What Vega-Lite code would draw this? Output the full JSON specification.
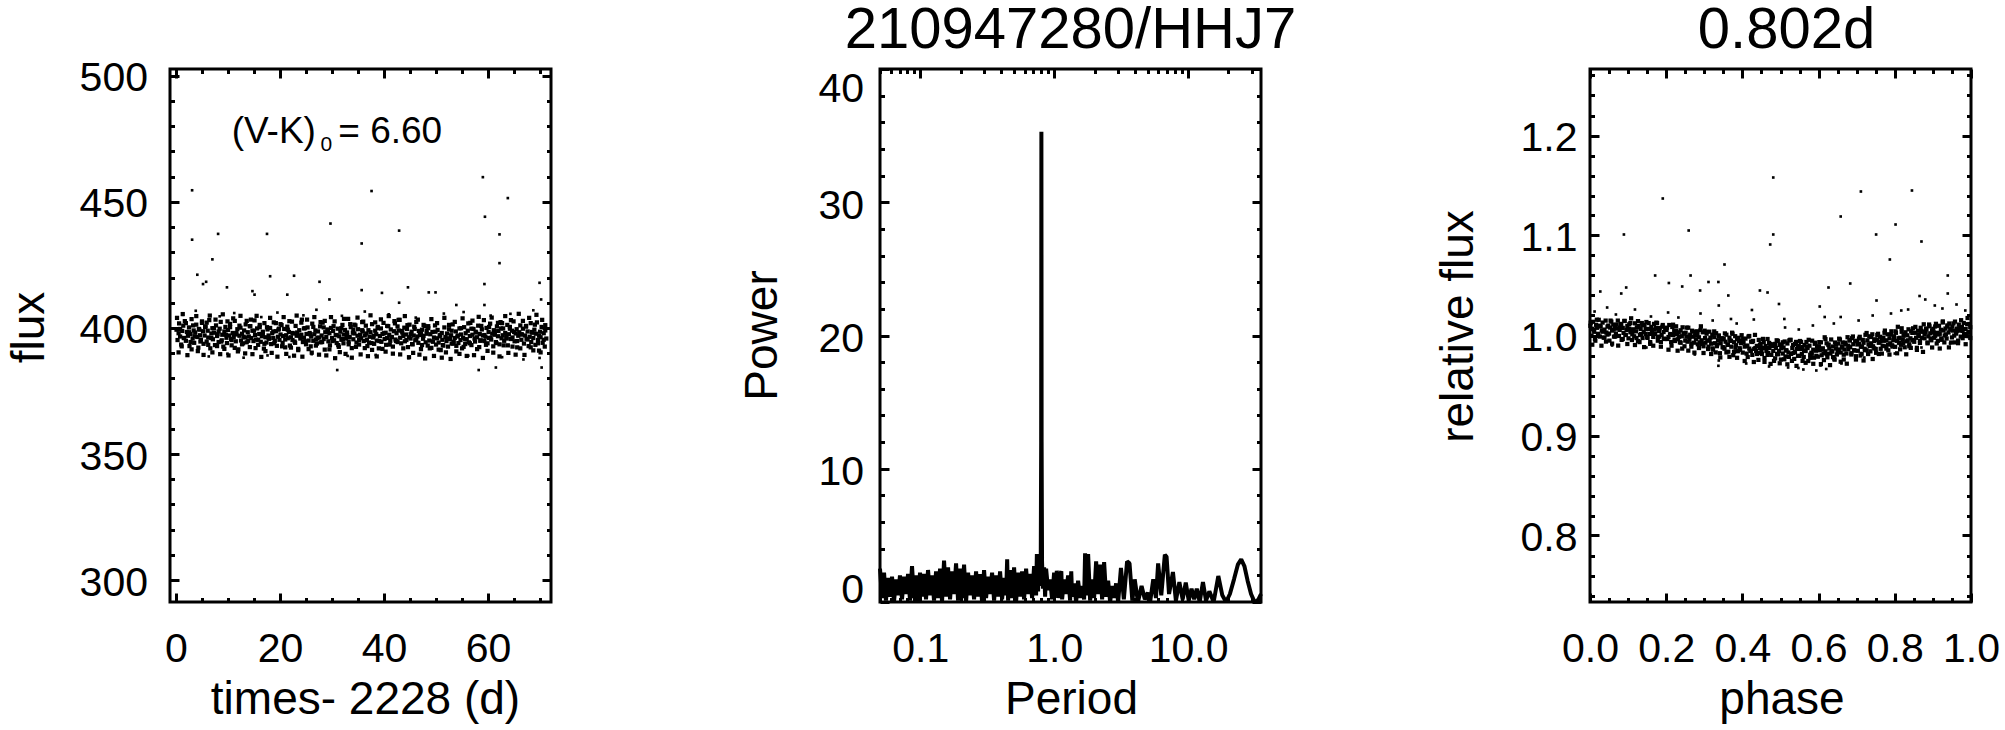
{
"$schema": "https://vega.github.io/schema/vega-lite/v6.json",
"background": "white",
"padding": {"left": 5, "top": 0, "right": 5, "bottom": 5},
"bounds": "flush",
"spacing": 329,
"datasets": {
"ann1": [{"t": 10.7, "f": 473.4, "s": "(V-K)"}, {"t": 31.2, "f": 473.4, "s": "= 6.60"}],
"ann2": [{"t": 27.8, "f": 470.0, "s": "0"}],
"lc": [
{"t":0.1,"f":399.3},{"t":0.3,"f":395.2},{"t":0.5,"f":397.9},{"t":0.6,"f":401.8},{"t":0.8,"f":396.6},{"t":1.0,"f":393.4},{"t":1.2,"f":398.8},{"t":1.4,"f":400.9},{"t":1.5,"f":396.0},{"t":1.7,"f":402.7},
{"t":1.9,"f":394.9},{"t":2.1,"f":398.4},{"t":2.3,"f":396.9},{"t":2.5,"f":400.2},{"t":2.6,"f":392.8},{"t":2.8,"f":397.6},{"t":3.0,"f":403.5},{"t":3.2,"f":395.8},{"t":3.4,"f":399.0},{"t":3.5,"f":394.1},
{"t":3.7,"f":398.2},{"t":3.9,"f":401.3},{"t":4.1,"f":396.4},{"t":4.3,"f":392.2},{"t":4.4,"f":399.6},{"t":4.6,"f":397.1},{"t":4.8,"f":395.3},{"t":5.0,"f":402.0},{"t":5.2,"f":398.7},{"t":5.3,"f":393.7},
{"t":5.5,"f":397.0},{"t":5.7,"f":400.6},{"t":5.9,"f":394.6},{"t":6.1,"f":398.9},{"t":6.2,"f":396.2},{"t":6.4,"f":403.1},{"t":6.6,"f":391.9},{"t":6.8,"f":397.8},{"t":7.0,"f":399.9},{"t":7.1,"f":395.5},
{"t":7.3,"f":398.1},{"t":7.5,"f":393.2},{"t":7.7,"f":401.0},{"t":7.9,"f":396.8},{"t":8.0,"f":397.5},{"t":8.2,"f":394.4},{"t":8.4,"f":399.7},{"t":8.6,"f":402.4},{"t":8.8,"f":395.1},{"t":8.9,"f":397.3},
{"t":9.1,"f":392.6},{"t":9.3,"f":398.6},{"t":9.5,"f":400.4},{"t":9.7,"f":396.1},{"t":9.8,"f":394.0},{"t":10.0,"f":399.2},{"t":10.2,"f":397.0},{"t":10.4,"f":401.6},{"t":10.6,"f":395.6},{"t":10.7,"f":393.1},
{"t":10.9,"f":398.0},{"t":11.1,"f":396.4},{"t":11.3,"f":402.8},{"t":11.5,"f":394.7},{"t":11.6,"f":397.4},{"t":11.8,"f":399.5},{"t":12.0,"f":391.5},{"t":12.2,"f":396.9},{"t":12.4,"f":400.1},{"t":12.5,"f":395.0},
{"t":12.7,"f":397.7},{"t":12.9,"f":393.9},{"t":13.1,"f":399.0},{"t":13.3,"f":396.2},{"t":13.4,"f":401.4},{"t":13.6,"f":394.3},{"t":13.8,"f":398.3},{"t":14.0,"f":396.6},{"t":14.2,"f":392.4},{"t":14.3,"f":400.7},
{"t":14.5,"f":396.0},{"t":14.7,"f":398.9},{"t":14.9,"f":394.8},{"t":15.1,"f":403.0},{"t":15.2,"f":397.2},{"t":15.4,"f":395.4},{"t":15.6,"f":399.8},{"t":15.8,"f":393.3},{"t":16.0,"f":397.6},{"t":16.1,"f":400.3},
{"t":16.3,"f":394.5},{"t":16.5,"f":396.7},{"t":16.7,"f":398.5},{"t":16.9,"f":391.8},{"t":17.0,"f":401.9},{"t":17.2,"f":396.3},{"t":17.4,"f":394.2},{"t":17.6,"f":399.4},{"t":17.8,"f":397.0},{"t":17.9,"f":395.7},
{"t":18.1,"f":400.0},{"t":18.3,"f":393.6},{"t":18.5,"f":397.9},{"t":18.7,"f":396.0},{"t":18.8,"f":402.2},{"t":19.0,"f":394.9},{"t":19.2,"f":398.7},{"t":19.4,"f":392.9},{"t":19.6,"f":396.5},{"t":19.7,"f":399.3},
{"t":19.9,"f":395.3},{"t":20.1,"f":397.4},{"t":20.3,"f":401.1},{"t":20.5,"f":394.1},{"t":20.6,"f":396.8},{"t":20.8,"f":399.6},{"t":21.0,"f":392.3},{"t":21.2,"f":397.1},{"t":21.4,"f":400.5},{"t":21.5,"f":395.9},
{"t":21.7,"f":398.4},{"t":21.9,"f":393.0},{"t":22.1,"f":396.3},{"t":22.3,"f":402.5},{"t":22.4,"f":395.2},{"t":22.6,"f":397.8},{"t":22.8,"f":394.6},{"t":23.0,"f":400.8},{"t":23.2,"f":396.9},{"t":23.3,"f":398.2},
{"t":23.5,"f":391.7},{"t":23.7,"f":399.1},{"t":23.9,"f":395.8},{"t":24.1,"f":397.3},{"t":24.2,"f":403.3},{"t":24.4,"f":394.4},{"t":24.6,"f":396.1},{"t":24.8,"f":399.9},{"t":25.0,"f":393.5},{"t":25.1,"f":397.6},
{"t":25.3,"f":400.2},{"t":25.5,"f":395.0},{"t":25.7,"f":398.0},{"t":25.9,"f":392.7},{"t":26.0,"f":396.6},{"t":26.2,"f":401.7},{"t":26.4,"f":394.9},{"t":26.6,"f":397.5},{"t":26.8,"f":399.0},{"t":26.9,"f":395.4},
{"t":27.1,"f":393.8},{"t":27.3,"f":398.6},{"t":27.5,"f":396.2},{"t":27.7,"f":400.6},{"t":27.8,"f":394.3},{"t":28.0,"f":397.0},{"t":28.2,"f":402.1},{"t":28.4,"f":395.6},{"t":28.6,"f":391.4},{"t":28.7,"f":398.3},
{"t":28.9,"f":396.4},{"t":29.1,"f":399.4},{"t":29.3,"f":394.7},{"t":29.5,"f":397.9},{"t":29.6,"f":393.1},{"t":29.8,"f":400.0},{"t":30.0,"f":396.0},{"t":30.2,"f":398.8},{"t":30.4,"f":395.1},{"t":30.5,"f":402.6},
{"t":30.7,"f":397.2},{"t":30.9,"f":394.0},{"t":31.1,"f":399.7},{"t":31.3,"f":392.5},{"t":31.4,"f":396.7},{"t":31.6,"f":398.5},{"t":31.8,"f":395.3},{"t":32.0,"f":401.2},{"t":32.2,"f":393.9},{"t":32.3,"f":397.4},
{"t":32.5,"f":399.2},{"t":32.7,"f":395.8},{"t":32.9,"f":397.1},{"t":33.1,"f":403.6},{"t":33.2,"f":394.6},{"t":33.4,"f":396.4},{"t":33.6,"f":400.3},{"t":33.8,"f":392.0},{"t":34.0,"f":398.1},{"t":34.1,"f":395.5},
{"t":34.3,"f":397.8},{"t":34.5,"f":401.0},{"t":34.7,"f":394.2},{"t":34.9,"f":396.9},{"t":35.0,"f":399.5},{"t":35.2,"f":393.4},{"t":35.4,"f":397.3},{"t":35.6,"f":395.9},{"t":35.8,"f":402.3},{"t":35.9,"f":398.6},
{"t":36.1,"f":394.8},{"t":36.3,"f":397.0},{"t":36.5,"f":400.9},{"t":36.7,"f":395.2},{"t":36.8,"f":392.8},{"t":37.0,"f":399.1},{"t":37.2,"f":396.5},{"t":37.4,"f":398.3},{"t":37.6,"f":394.0},{"t":37.7,"f":401.5},
{"t":37.9,"f":396.2},{"t":38.1,"f":393.7},{"t":38.3,"f":398.9},{"t":38.5,"f":397.5},{"t":38.6,"f":395.0},{"t":38.8,"f":400.4},{"t":39.0,"f":391.9},{"t":39.2,"f":396.8},{"t":39.4,"f":399.8},{"t":39.5,"f":394.5},
{"t":39.7,"f":397.6},{"t":39.9,"f":402.0},{"t":40.1,"f":395.6},{"t":40.3,"f":398.1},{"t":40.4,"f":393.3},{"t":40.6,"f":396.0},{"t":40.8,"f":400.7},{"t":41.0,"f":397.3},{"t":41.2,"f":394.9},{"t":41.3,"f":399.4},
{"t":41.5,"f":396.4},{"t":41.7,"f":392.6},{"t":41.9,"f":398.7},{"t":42.1,"f":401.8},{"t":42.2,"f":395.4},{"t":42.4,"f":397.9},{"t":42.6,"f":394.4},{"t":42.8,"f":399.0},{"t":43.0,"f":403.2},{"t":43.1,"f":396.1},
{"t":43.3,"f":393.9},{"t":43.5,"f":398.2},{"t":43.7,"f":396.8},{"t":43.9,"f":400.1},{"t":44.0,"f":394.7},{"t":44.2,"f":397.4},{"t":44.4,"f":399.6},{"t":44.6,"f":392.4},{"t":44.8,"f":396.3},{"t":44.9,"f":401.3},
{"t":45.1,"f":395.8},{"t":45.3,"f":398.5},{"t":45.5,"f":393.5},{"t":45.7,"f":397.0},{"t":45.8,"f":400.5},{"t":46.0,"f":395.1},{"t":46.2,"f":402.4},{"t":46.4,"f":396.6},{"t":46.6,"f":394.1},{"t":46.7,"f":398.8},
{"t":46.9,"f":397.2},{"t":47.1,"f":391.6},{"t":47.3,"f":399.3},{"t":47.5,"f":395.7},{"t":47.6,"f":396.9},{"t":47.8,"f":400.8},{"t":48.0,"f":394.3},{"t":48.2,"f":397.7},{"t":48.4,"f":393.0},{"t":48.5,"f":399.9},
{"t":48.7,"f":395.0},{"t":48.9,"f":397.5},{"t":49.1,"f":392.1},{"t":49.3,"f":398.4},{"t":49.4,"f":394.6},{"t":49.6,"f":396.2},{"t":49.8,"f":401.0},{"t":50.0,"f":393.4},{"t":50.2,"f":395.9},{"t":50.3,"f":399.2},
{"t":50.5,"f":394.2},{"t":50.7,"f":396.7},{"t":50.9,"f":391.2},{"t":51.1,"f":398.0},{"t":51.2,"f":395.3},{"t":51.4,"f":393.0},{"t":51.6,"f":400.2},{"t":51.8,"f":396.4},{"t":52.0,"f":394.8},{"t":52.1,"f":397.8},
{"t":52.3,"f":392.6},{"t":52.5,"f":399.5},{"t":52.7,"f":395.6},{"t":52.9,"f":397.1},{"t":53.0,"f":393.8},{"t":53.2,"f":401.4},{"t":53.4,"f":394.5},{"t":53.6,"f":396.0},{"t":53.8,"f":398.6},{"t":53.9,"f":392.9},
{"t":54.1,"f":396.6},{"t":54.3,"f":394.0},{"t":54.5,"f":399.8},{"t":54.7,"f":395.2},{"t":54.8,"f":397.4},{"t":55.0,"f":391.9},{"t":55.2,"f":396.1},{"t":55.4,"f":400.3},{"t":55.6,"f":393.6},{"t":55.7,"f":397.9},
{"t":55.9,"f":395.5},{"t":56.1,"f":398.9},{"t":56.3,"f":394.3},{"t":56.5,"f":396.8},{"t":56.6,"f":402.0},{"t":56.8,"f":393.2},{"t":57.0,"f":397.3},{"t":57.2,"f":399.6},{"t":57.4,"f":395.8},{"t":57.5,"f":394.6},
{"t":57.7,"f":398.2},{"t":57.9,"f":396.3},{"t":58.1,"f":400.9},{"t":58.3,"f":392.4},{"t":58.4,"f":397.6},{"t":58.6,"f":395.1},{"t":58.8,"f":399.4},{"t":59.0,"f":397.0},{"t":59.2,"f":403.1},{"t":59.3,"f":394.8},
{"t":59.5,"f":396.5},{"t":59.7,"f":400.0},{"t":59.9,"f":393.9},{"t":60.1,"f":398.4},{"t":60.2,"f":396.0},{"t":60.4,"f":401.7},{"t":60.6,"f":395.4},{"t":60.8,"f":397.7},{"t":61.0,"f":392.7},{"t":61.1,"f":399.1},
{"t":61.3,"f":397.3},{"t":61.5,"f":394.4},{"t":61.7,"f":400.6},{"t":61.9,"f":396.7},{"t":62.0,"f":398.8},{"t":62.2,"f":393.5},{"t":62.4,"f":402.3},{"t":62.6,"f":395.9},{"t":62.8,"f":397.1},{"t":62.9,"f":399.8},
{"t":63.1,"f":394.9},{"t":63.3,"f":398.0},{"t":63.5,"f":396.4},{"t":63.7,"f":401.2},{"t":63.8,"f":393.1},{"t":64.0,"f":397.5},{"t":64.2,"f":400.4},{"t":64.4,"f":395.6},{"t":64.6,"f":398.9},{"t":64.7,"f":396.2},
{"t":64.9,"f":402.6},{"t":65.1,"f":394.7},{"t":65.3,"f":397.8},{"t":65.5,"f":399.5},{"t":65.6,"f":392.3},{"t":65.8,"f":396.9},{"t":66.0,"f":398.3},{"t":66.2,"f":401.0},{"t":66.4,"f":395.3},{"t":66.5,"f":397.4},
{"t":66.7,"f":399.7},{"t":66.9,"f":393.8},{"t":67.1,"f":397.0},{"t":67.3,"f":400.8},{"t":67.4,"f":395.7},{"t":67.6,"f":398.6},{"t":67.8,"f":392.8},{"t":68.0,"f":396.5},{"t":68.2,"f":401.9},{"t":68.3,"f":394.4},
{"t":68.5,"f":398.1},{"t":68.7,"f":396.0},{"t":68.9,"f":399.3},{"t":69.1,"f":393.3},{"t":69.2,"f":397.7},{"t":69.4,"f":402.2},{"t":69.6,"f":395.2},{"t":69.8,"f":391.0},{"t":70.0,"f":398.5},{"t":70.1,"f":396.3},
{"t":70.3,"f":400.4},{"t":70.5,"f":394.1},{"t":70.7,"f":397.9},{"t":70.9,"f":392.6},{"t":71.0,"f":399.0},{"t":71.2,"f":395.8},
{"t":0.2,"f":404.0},{"t":0.5,"f":390.3},{"t":0.8,"f":399.6},{"t":1.1,"f":392.7},{"t":1.3,"f":405.5},{"t":1.6,"f":396.0},{"t":1.9,"f":401.9},{"t":2.2,"f":389.2},{"t":2.5,"f":398.3},{"t":2.8,"f":394.4},
{"t":3.0,"f":391.5},{"t":3.3,"f":401.0},{"t":3.6,"f":396.7},{"t":3.9,"f":404.7},{"t":4.2,"f":390.8},{"t":4.5,"f":399.3},{"t":4.7,"f":394.6},{"t":5.0,"f":402.6},{"t":5.3,"f":389.3},{"t":5.6,"f":400.4},
{"t":5.9,"f":402.1},{"t":6.2,"f":393.3},{"t":6.5,"f":404.9},{"t":6.8,"f":396.0},{"t":7.0,"f":390.3},{"t":7.3,"f":399.9},{"t":7.6,"f":403.3},{"t":7.9,"f":392.8},{"t":8.2,"f":398.6},{"t":8.5,"f":389.6},
{"t":8.7,"f":394.6},{"t":9.0,"f":405.4},{"t":9.3,"f":391.7},{"t":9.6,"f":397.3},{"t":9.9,"f":402.6},{"t":10.1,"f":389.1},{"t":10.4,"f":400.3},{"t":10.7,"f":395.2},{"t":11.0,"f":403.8},{"t":11.3,"f":392.1},
{"t":11.6,"f":398.0},{"t":11.9,"f":390.7},{"t":12.2,"f":400.9},{"t":12.4,"f":404.8},{"t":12.7,"f":393.5},{"t":13.0,"f":396.5},{"t":13.3,"f":389.9},{"t":13.6,"f":402.8},{"t":13.9,"f":394.9},{"t":14.2,"f":400.7},
{"t":14.4,"f":403.3},{"t":14.7,"f":389.6},{"t":15.0,"f":398.9},{"t":15.3,"f":392.0},{"t":15.5,"f":404.8},{"t":15.8,"f":395.3},{"t":16.1,"f":401.2},{"t":16.4,"f":388.5},{"t":16.7,"f":397.6},{"t":17.0,"f":393.7},
{"t":17.2,"f":390.8},{"t":17.5,"f":400.3},{"t":17.8,"f":396.0},{"t":18.1,"f":404.0},{"t":18.4,"f":390.1},{"t":18.7,"f":398.6},{"t":18.9,"f":393.9},{"t":19.2,"f":401.9},{"t":19.5,"f":388.6},{"t":19.8,"f":399.7},
{"t":20.1,"f":401.5},{"t":20.4,"f":392.7},{"t":20.7,"f":404.3},{"t":21.0,"f":395.4},{"t":21.2,"f":389.7},{"t":21.5,"f":399.3},{"t":21.8,"f":402.7},{"t":22.1,"f":392.2},{"t":22.4,"f":398.0},{"t":22.7,"f":389.0},
{"t":22.9,"f":394.1},{"t":23.2,"f":404.9},{"t":23.5,"f":391.2},{"t":23.8,"f":396.8},{"t":24.1,"f":402.1},{"t":24.3,"f":388.6},{"t":24.6,"f":399.8},{"t":24.9,"f":394.7},{"t":25.2,"f":403.3},{"t":25.5,"f":391.6},
{"t":25.8,"f":397.5},{"t":26.1,"f":390.2},{"t":26.4,"f":400.4},{"t":26.6,"f":404.3},{"t":26.9,"f":393.0},{"t":27.2,"f":396.0},{"t":27.5,"f":389.4},{"t":27.8,"f":402.3},{"t":28.1,"f":394.4},{"t":28.4,"f":400.2},
{"t":28.6,"f":402.8},{"t":28.9,"f":389.1},{"t":29.2,"f":398.4},{"t":29.5,"f":391.5},{"t":29.8,"f":404.3},{"t":30.1,"f":394.8},{"t":30.3,"f":400.7},{"t":30.6,"f":388.0},{"t":30.9,"f":397.1},{"t":31.2,"f":393.2},
{"t":31.5,"f":390.4},{"t":31.8,"f":399.9},{"t":32.1,"f":395.6},{"t":32.3,"f":403.6},{"t":32.6,"f":389.7},{"t":32.9,"f":398.2},{"t":33.2,"f":393.5},{"t":33.5,"f":401.5},{"t":33.8,"f":388.2},{"t":34.1,"f":399.3},
{"t":34.3,"f":401.3},{"t":34.6,"f":392.5},{"t":34.9,"f":404.1},{"t":35.2,"f":395.2},{"t":35.5,"f":389.5},{"t":35.8,"f":399.1},{"t":36.0,"f":402.5},{"t":36.3,"f":392.0},{"t":36.6,"f":397.8},{"t":36.9,"f":388.8},
{"t":37.1,"f":394.2},{"t":37.4,"f":405.0},{"t":37.7,"f":391.3},{"t":38.0,"f":396.9},{"t":38.3,"f":402.2},{"t":38.6,"f":388.7},{"t":38.8,"f":399.9},{"t":39.1,"f":394.8},{"t":39.4,"f":403.4},{"t":39.7,"f":391.7},
{"t":40.0,"f":397.9},{"t":40.3,"f":390.6},{"t":40.6,"f":400.8},{"t":40.9,"f":404.7},{"t":41.1,"f":393.4},{"t":41.4,"f":396.4},{"t":41.7,"f":389.8},{"t":42.0,"f":402.7},{"t":42.3,"f":394.8},{"t":42.6,"f":400.6},
{"t":42.8,"f":403.2},{"t":43.1,"f":389.5},{"t":43.4,"f":398.8},{"t":43.7,"f":391.9},{"t":44.0,"f":404.7},{"t":44.3,"f":395.2},{"t":44.5,"f":401.1},{"t":44.8,"f":388.4},{"t":45.1,"f":397.5},{"t":45.4,"f":393.6},
{"t":45.6,"f":390.1},{"t":45.9,"f":399.6},{"t":46.2,"f":395.3},{"t":46.5,"f":403.3},{"t":46.8,"f":389.4},{"t":47.1,"f":397.9},{"t":47.3,"f":393.2},{"t":47.6,"f":401.2},{"t":47.9,"f":387.9},{"t":48.2,"f":399.0},
{"t":48.5,"f":400.7},{"t":48.8,"f":391.9},{"t":49.1,"f":403.5},{"t":49.4,"f":394.6},{"t":49.6,"f":388.9},{"t":49.9,"f":398.5},{"t":50.2,"f":401.9},{"t":50.5,"f":391.4},{"t":50.8,"f":397.2},{"t":51.1,"f":388.2},
{"t":51.3,"f":393.2},{"t":51.6,"f":404.0},{"t":51.9,"f":390.3},{"t":52.2,"f":395.9},{"t":52.5,"f":401.2},{"t":52.8,"f":387.7},{"t":53.0,"f":398.9},{"t":53.3,"f":393.8},{"t":53.6,"f":402.4},{"t":53.9,"f":390.7},
{"t":54.2,"f":397.0},{"t":54.5,"f":389.7},{"t":54.8,"f":399.9},{"t":55.1,"f":403.8},{"t":55.3,"f":392.5},{"t":55.6,"f":395.5},{"t":55.9,"f":388.9},{"t":56.2,"f":401.8},{"t":56.5,"f":393.9},{"t":56.8,"f":399.7},
{"t":57.0,"f":402.9},{"t":57.3,"f":389.2},{"t":57.6,"f":398.5},{"t":57.9,"f":391.6},{"t":58.2,"f":404.4},{"t":58.5,"f":394.9},{"t":58.7,"f":400.8},{"t":59.0,"f":388.1},{"t":59.3,"f":397.2},{"t":59.6,"f":393.3},
{"t":59.9,"f":390.9},{"t":60.2,"f":400.4},{"t":60.5,"f":396.1},{"t":60.7,"f":404.1},{"t":61.0,"f":390.2},{"t":61.3,"f":398.7},{"t":61.6,"f":394.0},{"t":61.9,"f":402.0},{"t":62.2,"f":388.7},{"t":62.5,"f":399.8},
{"t":62.7,"f":401.9},{"t":63.0,"f":393.1},{"t":63.3,"f":404.7},{"t":63.6,"f":395.8},{"t":63.9,"f":390.1},{"t":64.2,"f":399.7},{"t":64.4,"f":403.1},{"t":64.7,"f":392.6},{"t":65.0,"f":398.4},{"t":65.3,"f":389.4},
{"t":65.6,"f":394.8},{"t":65.9,"f":405.6},{"t":66.2,"f":391.9},{"t":66.4,"f":397.5},{"t":66.7,"f":402.8},{"t":67.0,"f":389.3},{"t":67.3,"f":400.5},{"t":67.6,"f":395.4},{"t":67.9,"f":404.0},{"t":68.2,"f":392.3},
{"t":68.4,"f":398.4},{"t":68.7,"f":391.1},{"t":69.0,"f":401.3},{"t":69.3,"f":405.2},{"t":69.6,"f":393.9},{"t":69.8,"f":396.9},{"t":70.1,"f":390.3},{"t":70.4,"f":403.2},{"t":70.7,"f":395.3},{"t":71.0,"f":401.1}
],
"lco": [
{"t":2.2,"f":389.4},{"t":6.3,"f":388.7},{"t":9.9,"f":389.8},{"t":13.0,"f":388.2},{"t":17.6,"f":389.1},{"t":21.8,"f":388.5},{"t":26.1,"f":389.6},{"t":33.0,"f":388.9},{"t":38.4,"f":389.3},{"t":44.7,"f":388.0},{"t":49.7,"f":388.6},{"t":52.8,"f":387.8},{"t":56.2,"f":389.0},{"t":62.7,"f":388.4},{"t":66.8,"f":387.5},{"t":69.9,"f":388.1},
{"t":1.3,"f":405.2},{"t":3.8,"f":406.8},{"t":8.4,"f":404.6},{"t":11.2,"f":405.9},{"t":16.4,"f":404.3},{"t":19.5,"f":406.1},{"t":24.5,"f":405.0},{"t":27.0,"f":407.2},{"t":31.9,"f":404.8},{"t":36.3,"f":406.5},{"t":40.9,"f":405.4},{"t":46.1,"f":404.1},{"t":51.5,"f":405.7},{"t":55.3,"f":406.3},{"t":60.5,"f":404.9},{"t":64.3,"f":405.6},{"t":68.7,"f":407.0},
{"t":3.1,"f":454.6},{"t":59.0,"f":459.8},{"t":37.6,"f":454.3},{"t":63.8,"f":451.5},{"t":29.7,"f":441.4},{"t":42.9,"f":438.6},{"t":8.1,"f":437.3},{"t":17.5,"f":437.3},{"t":3.1,"f":435.0},{"t":35.7,"f":433.5},{"t":7.0,"f":427.2},{"t":59.4,"f":444.1},{"t":62.2,"f":437.1},{"t":62.2,"f":425.7},{"t":4.1,"f":421.1},{"t":5.2,"f":417.4},{"t":5.8,"f":418.3},{"t":18.1,"f":420.5},{"t":22.7,"f":420.7},{"t":27.6,"f":418.3},{"t":9.8,"f":416.1},{"t":35.7,"f":415.0},{"t":39.6,"f":413.9},{"t":44.6,"f":416.1},{"t":48.6,"f":414.1},{"t":49.9,"f":414.1},{"t":59.3,"f":417.4},{"t":69.9,"f":417.9},{"t":14.7,"f":414.6},{"t":15.1,"f":413.2},{"t":21.4,"f":413.2},{"t":70.2,"f":411.3},{"t":53.9,"f":409.1},{"t":59.3,"f":409.1},{"t":42.9,"f":410.0},{"t":29.5,"f":411.3},{"t":31.0,"f":383.3},{"t":58.2,"f":383.3},{"t":70.3,"f":384.3},{"t":61.5,"f":384.3}
],
"pg": [
{"p":0.05,"w":2.5},{"p":0.0518,"w":0.3},{"p":0.0536,"w":2.2},{"p":0.0554,"w":0.1},{"p":0.0574,"w":1.8},{"p":0.0594,"w":0.4},{"p":0.0615,"w":1.9},{"p":0.0636,"w":0.0},{"p":0.0659,"w":1.7},{"p":0.0682,"w":0.5},
{"p":0.0705,"w":2.0},{"p":0.073,"w":0.2},{"p":0.0756,"w":1.9},{"p":0.0782,"w":0.6},{"p":0.081,"w":2.1},{"p":0.0838,"w":0.1},{"p":0.0867,"w":2.7},{"p":0.0898,"w":0.3},{"p":0.0929,"w":2.0},{"p":0.0962,"w":0.0},
{"p":0.0995,"w":2.2},{"p":0.103,"w":0.4},{"p":0.1066,"w":2.1},{"p":0.1103,"w":0.2},{"p":0.1142,"w":2.4},{"p":0.1182,"w":0.5},{"p":0.1223,"w":2.0},{"p":0.1266,"w":0.1},{"p":0.1311,"w":2.3},{"p":0.1357,"w":0.3},
{"p":0.1404,"w":2.5},{"p":0.1453,"w":0.0},{"p":0.1504,"w":3.1},{"p":0.1557,"w":0.4},{"p":0.1611,"w":2.6},{"p":0.1668,"w":0.2},{"p":0.1726,"w":2.3},{"p":0.1787,"w":0.6},{"p":0.1849,"w":2.9},{"p":0.1914,"w":0.1},
{"p":0.1981,"w":2.5},{"p":0.205,"w":0.3},{"p":0.2122,"w":2.8},{"p":0.2196,"w":0.0},{"p":0.2273,"w":2.2},{"p":0.2353,"w":0.5},{"p":0.2435,"w":2.0},{"p":0.252,"w":0.2},{"p":0.2608,"w":2.3},{"p":0.27,"w":0.4},
{"p":0.2794,"w":2.1},{"p":0.2892,"w":0.0},{"p":0.2993,"w":2.4},{"p":0.3098,"w":0.3},{"p":0.3206,"w":1.9},{"p":0.3319,"w":0.6},{"p":0.3435,"w":2.2},{"p":0.3555,"w":0.1},{"p":0.368,"w":2.0},{"p":0.3808,"w":0.4},
{"p":0.3941,"w":2.3},{"p":0.4079,"w":0.2},{"p":0.4222,"w":1.8},{"p":0.437,"w":0.5},{"p":0.4452,"w":3.2},{"p":0.4523,"w":0.1},{"p":0.4681,"w":2.4},{"p":0.4845,"w":0.3},{"p":0.5015,"w":2.6},{"p":0.519,"w":0.0},
{"p":0.5372,"w":2.2},{"p":0.556,"w":0.4},{"p":0.5755,"w":2.3},{"p":0.5956,"w":0.2},{"p":0.6165,"w":2.5},{"p":0.638,"w":0.6},{"p":0.6604,"w":2.1},{"p":0.6835,"w":0.3},{"p":0.7074,"w":2.7},{"p":0.7322,"w":0.5},
{"p":0.742,"w":3.6},{"p":0.7578,"w":0.8},{"p":0.77,"w":3.0},{"p":0.7843,"w":1.2},{"p":0.793,"w":2.8},{"p":0.799,"w":12.0},{"p":0.802,"w":35.3},{"p":0.805,"w":12.0},{"p":0.811,"w":3.0},{"p":0.825,"w":1.0},
{"p":0.8402,"w":2.6},{"p":0.855,"w":0.4},{"p":0.8696,"w":2.5},{"p":0.9,"w":0.9},{"p":0.9315,"w":1.7},{"p":0.9641,"w":0.2},{"p":0.9979,"w":2.2},{"p":1.0328,"w":0.5},{"p":1.045,"w":2.35},{"p":1.069,"w":0.3},
{"p":1.1064,"w":2.1},{"p":1.13,"w":2.3},{"p":1.1451,"w":0.2},{"p":1.1852,"w":1.7},{"p":1.2267,"w":0.6},{"p":1.2696,"w":2.0},{"p":1.314,"w":0.1},{"p":1.34,"w":2.3},{"p":1.36,"w":0.4},{"p":1.4076,"w":1.4},
{"p":1.4569,"w":0.0},{"p":1.5079,"w":1.6},{"p":1.5607,"w":0.3},{"p":1.6153,"w":1.2},{"p":1.6718,"w":0.2},{"p":1.7,"w":3.65},{"p":1.7303,"w":0.5},{"p":1.7909,"w":3.6},{"p":1.8536,"w":0.1},{"p":1.9185,"w":1.7},
{"p":1.9856,"w":0.3},{"p":2.0551,"w":3.05},{"p":2.127,"w":0.6},{"p":2.2015,"w":2.8},{"p":2.2785,"w":0.2},{"p":2.3583,"w":3.0},{"p":2.4408,"w":0.4},{"p":2.5262,"w":1.6},{"p":2.6146,"w":0.0},{"p":2.7062,"w":1.2},
{"p":2.8009,"w":0.3},{"p":2.8989,"w":1.4},{"p":3.0004,"w":0.0},{"p":3.15,"w":2.55},{"p":3.31,"w":0.2},{"p":3.5,"w":3.05},{"p":3.65,"w":2.9},{"p":3.83,"w":0.1},{"p":3.99,"w":1.7},{"p":4.22,"w":0.0},
{"p":4.49,"w":1.2},{"p":4.75,"w":0.2},{"p":5.0,"w":0.7},{"p":5.2,"w":0.0},{"p":5.49,"w":1.7},{"p":5.75,"w":0.3},{"p":5.97,"w":2.9},{"p":6.3,"w":0.5},{"p":6.7,"w":3.55},{"p":6.9,"w":3.4},
{"p":7.2,"w":0.6},{"p":7.7,"w":2.25},{"p":8.1,"w":0.1},{"p":8.6,"w":1.5},{"p":9.1,"w":0.2},{"p":9.6,"w":1.45},{"p":10.1,"w":0.1},{"p":10.6,"w":1.0},{"p":11.1,"w":0.2},{"p":11.6,"w":1.0},
{"p":12.2,"w":0.0},{"p":12.9,"w":1.5},{"p":13.6,"w":0.1},{"p":14.4,"w":0.8},{"p":15.5,"w":0.0},{"p":16.8,"w":1.95},{"p":18.0,"w":0.5},{"p":19.2,"w":0.0},{"p":20.5,"w":0.6},{"p":22.0,"w":1.7},
{"p":23.5,"w":2.8},{"p":24.9,"w":3.2},{"p":26.3,"w":2.7},{"p":27.8,"w":1.6},{"p":29.5,"w":0.6},{"p":31.0,"w":0.1},{"p":32.0,"w":0.0},{"p":33.5,"w":0.2},{"p":35.0,"w":0.6}
],
"ph": [
{"ph":0.001,"rf":1.0097},{"ph":0.004,"rf":0.9997},{"ph":0.006,"rf":1.0067},{"ph":0.008,"rf":1.0137},{"ph":0.011,"rf":1.0037},{"ph":0.013,"rf":0.9967},{"ph":0.016,"rf":1.0107},{"ph":0.018,"rf":1.0077},{"ph":0.021,"rf":1.0017},{"ph":0.023,"rf":1.0157},
{"ph":0.026,"rf":0.9989},{"ph":0.028,"rf":1.0089},{"ph":0.031,"rf":1.0049},{"ph":0.033,"rf":1.0129},{"ph":0.036,"rf":0.9979},{"ph":0.038,"rf":1.0059},{"ph":0.041,"rf":1.0149},{"ph":0.043,"rf":1.0029},{"ph":0.046,"rf":1.0009},{"ph":0.048,"rf":1.0099},
{"ph":0.051,"rf":0.9949},{"ph":0.053,"rf":1.0079},{"ph":0.056,"rf":1.0139},{"ph":0.058,"rf":1.0049},{"ph":0.061,"rf":1.0109},{"ph":0.063,"rf":0.9989},{"ph":0.066,"rf":1.0089},{"ph":0.068,"rf":1.0019},{"ph":0.071,"rf":1.0069},{"ph":0.073,"rf":1.0149},
{"ph":0.076,"rf":0.9996},{"ph":0.078,"rf":1.0056},{"ph":0.081,"rf":1.0116},{"ph":0.083,"rf":0.9956},{"ph":0.086,"rf":1.0076},{"ph":0.088,"rf":1.0026},{"ph":0.091,"rf":1.0146},{"ph":0.093,"rf":1.0006},{"ph":0.096,"rf":1.0056},{"ph":0.098,"rf":1.0096},
{"ph":0.101,"rf":0.9972},{"ph":0.103,"rf":1.0112},{"ph":0.106,"rf":1.0032},{"ph":0.108,"rf":1.0172},{"ph":0.111,"rf":1.0012},{"ph":0.113,"rf":1.0062},{"ph":0.116,"rf":0.9992},{"ph":0.118,"rf":1.0122},{"ph":0.121,"rf":1.0042},{"ph":0.123,"rf":1.0082},
{"ph":0.126,"rf":0.9945},{"ph":0.128,"rf":1.0095},{"ph":0.131,"rf":1.0005},{"ph":0.133,"rf":1.0065},{"ph":0.136,"rf":1.0125},{"ph":0.138,"rf":0.9975},{"ph":0.141,"rf":1.0035},{"ph":0.143,"rf":1.0105},{"ph":0.146,"rf":1.0015},{"ph":0.148,"rf":1.0135},
{"ph":0.151,"rf":0.9976},{"ph":0.153,"rf":1.0066},{"ph":0.156,"rf":1.0016},{"ph":0.158,"rf":0.9916},{"ph":0.161,"rf":1.0086},{"ph":0.163,"rf":1.0046},{"ph":0.166,"rf":0.9986},{"ph":0.168,"rf":1.0116},{"ph":0.171,"rf":1.0016},{"ph":0.173,"rf":1.0076},
{"ph":0.176,"rf":1.0125},{"ph":0.178,"rf":0.9985},{"ph":0.181,"rf":1.0045},{"ph":0.183,"rf":1.0075},{"ph":0.186,"rf":0.9935},{"ph":0.188,"rf":1.0005},{"ph":0.191,"rf":1.0105},{"ph":0.193,"rf":1.0035},{"ph":0.196,"rf":0.9965},{"ph":0.198,"rf":1.0065},
{"ph":0.201,"rf":1.0055},{"ph":0.203,"rf":0.9965},{"ph":0.206,"rf":0.9985},{"ph":0.208,"rf":1.0105},{"ph":0.211,"rf":1.0015},{"ph":0.213,"rf":0.9935},{"ph":0.216,"rf":1.0085},{"ph":0.218,"rf":1.0005},{"ph":0.221,"rf":1.0045},{"ph":0.223,"rf":0.9945},
{"ph":0.226,"rf":1.0092},{"ph":0.228,"rf":1.0012},{"ph":0.231,"rf":0.9962},{"ph":0.233,"rf":1.0032},{"ph":0.236,"rf":0.9932},{"ph":0.238,"rf":1.0052},{"ph":0.241,"rf":0.9992},{"ph":0.243,"rf":1.0082},{"ph":0.246,"rf":1.0022},{"ph":0.248,"rf":0.9892},
{"ph":0.251,"rf":1.0028},{"ph":0.253,"rf":0.9988},{"ph":0.256,"rf":0.9938},{"ph":0.258,"rf":1.0078},{"ph":0.261,"rf":0.9958},{"ph":0.263,"rf":1.0008},{"ph":0.266,"rf":0.9888},{"ph":0.268,"rf":1.0048},{"ph":0.271,"rf":0.9988},{"ph":0.273,"rf":0.9928},
{"ph":0.276,"rf":1.0002},{"ph":0.278,"rf":0.9962},{"ph":0.281,"rf":1.0042},{"ph":0.283,"rf":0.9912},{"ph":0.286,"rf":0.9982},{"ph":0.288,"rf":0.9932},{"ph":0.291,"rf":1.0092},{"ph":0.293,"rf":0.9952},{"ph":0.296,"rf":1.0032},{"ph":0.298,"rf":0.9892},
{"ph":0.301,"rf":1.0048},{"ph":0.303,"rf":0.9928},{"ph":0.306,"rf":1.0018},{"ph":0.308,"rf":0.9948},{"ph":0.311,"rf":0.9888},{"ph":0.313,"rf":1.0038},{"ph":0.316,"rf":0.9978},{"ph":0.318,"rf":0.9918},{"ph":0.321,"rf":1.0008},{"ph":0.323,"rf":0.9858},
{"ph":0.326,"rf":0.9983},{"ph":0.328,"rf":0.9923},{"ph":0.331,"rf":1.0023},{"ph":0.333,"rf":0.9893},{"ph":0.336,"rf":0.9953},{"ph":0.338,"rf":0.9993},{"ph":0.341,"rf":0.9823},{"ph":0.343,"rf":0.9923},{"ph":0.346,"rf":0.9973},{"ph":0.348,"rf":0.9883},
{"ph":0.351,"rf":0.9968},{"ph":0.353,"rf":0.9868},{"ph":0.356,"rf":0.9938},{"ph":0.358,"rf":1.0008},{"ph":0.361,"rf":0.9908},{"ph":0.363,"rf":0.9838},{"ph":0.366,"rf":0.9978},{"ph":0.368,"rf":0.9948},{"ph":0.371,"rf":0.9888},{"ph":0.373,"rf":1.0028},
{"ph":0.376,"rf":0.9803},{"ph":0.378,"rf":0.9933},{"ph":0.381,"rf":0.9993},{"ph":0.383,"rf":0.9903},{"ph":0.386,"rf":0.9963},{"ph":0.388,"rf":0.9843},{"ph":0.391,"rf":0.9943},{"ph":0.393,"rf":0.9873},{"ph":0.396,"rf":0.9923},{"ph":0.398,"rf":1.0003},
{"ph":0.401,"rf":0.9829},{"ph":0.403,"rf":0.9929},{"ph":0.406,"rf":0.9889},{"ph":0.408,"rf":0.9969},{"ph":0.411,"rf":0.9819},{"ph":0.413,"rf":0.9899},{"ph":0.416,"rf":0.9989},{"ph":0.418,"rf":0.9869},{"ph":0.421,"rf":0.9849},{"ph":0.423,"rf":0.9939},
{"ph":0.426,"rf":0.9806},{"ph":0.428,"rf":0.9946},{"ph":0.431,"rf":0.9866},{"ph":0.433,"rf":1.0006},{"ph":0.436,"rf":0.9846},{"ph":0.438,"rf":0.9896},{"ph":0.441,"rf":0.9826},{"ph":0.443,"rf":0.9956},{"ph":0.446,"rf":0.9876},{"ph":0.448,"rf":0.9916},
{"ph":0.451,"rf":0.9815},{"ph":0.453,"rf":0.9875},{"ph":0.456,"rf":0.9935},{"ph":0.458,"rf":0.9775},{"ph":0.461,"rf":0.9895},{"ph":0.463,"rf":0.9845},{"ph":0.466,"rf":0.9965},{"ph":0.468,"rf":0.9825},{"ph":0.471,"rf":0.9875},{"ph":0.473,"rf":0.9915},
{"ph":0.476,"rf":0.9806},{"ph":0.478,"rf":0.9896},{"ph":0.481,"rf":0.9846},{"ph":0.483,"rf":0.9746},{"ph":0.486,"rf":0.9916},{"ph":0.488,"rf":0.9876},{"ph":0.491,"rf":0.9816},{"ph":0.493,"rf":0.9946},{"ph":0.496,"rf":0.9846},{"ph":0.498,"rf":0.9906},
{"ph":0.501,"rf":0.976},{"ph":0.503,"rf":0.991},{"ph":0.506,"rf":0.982},{"ph":0.508,"rf":0.988},{"ph":0.511,"rf":0.994},{"ph":0.513,"rf":0.979},{"ph":0.516,"rf":0.985},{"ph":0.518,"rf":0.992},{"ph":0.521,"rf":0.983},{"ph":0.523,"rf":0.995},
{"ph":0.526,"rf":0.9956},{"ph":0.528,"rf":0.9816},{"ph":0.531,"rf":0.9876},{"ph":0.533,"rf":0.9906},{"ph":0.536,"rf":0.9766},{"ph":0.538,"rf":0.9836},{"ph":0.541,"rf":0.9936},{"ph":0.543,"rf":0.9866},{"ph":0.546,"rf":0.9796},{"ph":0.548,"rf":0.9896},
{"ph":0.551,"rf":0.9945},{"ph":0.553,"rf":0.9865},{"ph":0.556,"rf":0.9815},{"ph":0.558,"rf":0.9885},{"ph":0.561,"rf":0.9785},{"ph":0.563,"rf":0.9905},{"ph":0.566,"rf":0.9845},{"ph":0.568,"rf":0.9935},{"ph":0.571,"rf":0.9875},{"ph":0.573,"rf":0.9745},
{"ph":0.576,"rf":0.9898},{"ph":0.578,"rf":0.9808},{"ph":0.581,"rf":0.9828},{"ph":0.583,"rf":0.9948},{"ph":0.586,"rf":0.9858},{"ph":0.588,"rf":0.9778},{"ph":0.591,"rf":0.9928},{"ph":0.593,"rf":0.9848},{"ph":0.596,"rf":0.9888},{"ph":0.598,"rf":0.9788},
{"ph":0.601,"rf":0.9892},{"ph":0.603,"rf":0.9852},{"ph":0.606,"rf":0.9932},{"ph":0.608,"rf":0.9802},{"ph":0.611,"rf":0.9872},{"ph":0.613,"rf":0.9822},{"ph":0.616,"rf":0.9982},{"ph":0.618,"rf":0.9842},{"ph":0.621,"rf":0.9922},{"ph":0.623,"rf":0.9782},
{"ph":0.626,"rf":0.991},{"ph":0.628,"rf":0.987},{"ph":0.631,"rf":0.982},{"ph":0.633,"rf":0.996},{"ph":0.636,"rf":0.984},{"ph":0.638,"rf":0.989},{"ph":0.641,"rf":0.977},{"ph":0.643,"rf":0.993},{"ph":0.646,"rf":0.987},{"ph":0.648,"rf":0.981},
{"ph":0.651,"rf":0.992},{"ph":0.653,"rf":0.986},{"ph":0.656,"rf":0.996},{"ph":0.658,"rf":0.983},{"ph":0.661,"rf":0.989},{"ph":0.663,"rf":0.993},{"ph":0.666,"rf":0.976},{"ph":0.668,"rf":0.986},{"ph":0.671,"rf":0.991},{"ph":0.673,"rf":0.982},
{"ph":0.676,"rf":0.9983},{"ph":0.678,"rf":0.9863},{"ph":0.681,"rf":0.9953},{"ph":0.683,"rf":0.9883},{"ph":0.686,"rf":0.9823},{"ph":0.688,"rf":0.9973},{"ph":0.691,"rf":0.9913},{"ph":0.693,"rf":0.9853},{"ph":0.696,"rf":0.9943},{"ph":0.698,"rf":0.9793},
{"ph":0.701,"rf":0.9947},{"ph":0.703,"rf":0.9847},{"ph":0.706,"rf":0.9917},{"ph":0.708,"rf":0.9987},{"ph":0.711,"rf":0.9887},{"ph":0.713,"rf":0.9817},{"ph":0.716,"rf":0.9957},{"ph":0.718,"rf":0.9927},{"ph":0.721,"rf":0.9867},{"ph":0.723,"rf":1.0007},
{"ph":0.726,"rf":0.9852},{"ph":0.728,"rf":0.9952},{"ph":0.731,"rf":0.9912},{"ph":0.733,"rf":0.9992},{"ph":0.736,"rf":0.9842},{"ph":0.738,"rf":0.9922},{"ph":0.741,"rf":1.0012},{"ph":0.743,"rf":0.9892},{"ph":0.746,"rf":0.9872},{"ph":0.748,"rf":0.9962},
{"ph":0.751,"rf":0.9827},{"ph":0.753,"rf":0.9957},{"ph":0.756,"rf":1.0017},{"ph":0.758,"rf":0.9927},{"ph":0.761,"rf":0.9987},{"ph":0.763,"rf":0.9867},{"ph":0.766,"rf":0.9967},{"ph":0.768,"rf":0.9897},{"ph":0.771,"rf":0.9947},{"ph":0.773,"rf":1.0027},
{"ph":0.776,"rf":0.9892},{"ph":0.778,"rf":0.9952},{"ph":0.781,"rf":1.0012},{"ph":0.783,"rf":0.9852},{"ph":0.786,"rf":0.9972},{"ph":0.788,"rf":0.9922},{"ph":0.791,"rf":1.0042},{"ph":0.793,"rf":0.9902},{"ph":0.796,"rf":0.9952},{"ph":0.798,"rf":0.9992},
{"ph":0.801,"rf":0.9887},{"ph":0.803,"rf":1.0027},{"ph":0.806,"rf":0.9947},{"ph":0.808,"rf":1.0087},{"ph":0.811,"rf":0.9927},{"ph":0.813,"rf":0.9977},{"ph":0.816,"rf":0.9907},{"ph":0.818,"rf":1.0037},{"ph":0.821,"rf":0.9957},{"ph":0.823,"rf":0.9997},
{"ph":0.826,"rf":0.9882},{"ph":0.828,"rf":1.0032},{"ph":0.831,"rf":0.9942},{"ph":0.833,"rf":1.0002},{"ph":0.836,"rf":1.0062},{"ph":0.838,"rf":0.9912},{"ph":0.841,"rf":0.9972},{"ph":0.843,"rf":1.0042},{"ph":0.846,"rf":0.9952},{"ph":0.848,"rf":1.0072},
{"ph":0.851,"rf":0.9937},{"ph":0.853,"rf":1.0027},{"ph":0.856,"rf":0.9977},{"ph":0.858,"rf":0.9877},{"ph":0.861,"rf":1.0047},{"ph":0.863,"rf":1.0007},{"ph":0.866,"rf":0.9947},{"ph":0.868,"rf":1.0077},{"ph":0.871,"rf":0.9977},{"ph":0.873,"rf":1.0037},
{"ph":0.876,"rf":1.0112},{"ph":0.878,"rf":0.9972},{"ph":0.881,"rf":1.0032},{"ph":0.883,"rf":1.0062},{"ph":0.886,"rf":0.9922},{"ph":0.888,"rf":0.9992},{"ph":0.891,"rf":1.0092},{"ph":0.893,"rf":1.0022},{"ph":0.896,"rf":0.9952},{"ph":0.898,"rf":1.0052},
{"ph":0.901,"rf":1.0067},{"ph":0.903,"rf":0.9977},{"ph":0.906,"rf":0.9997},{"ph":0.908,"rf":1.0117},{"ph":0.911,"rf":1.0027},{"ph":0.913,"rf":0.9947},{"ph":0.916,"rf":1.0097},{"ph":0.918,"rf":1.0017},{"ph":0.921,"rf":1.0057},{"ph":0.923,"rf":0.9957},
{"ph":0.926,"rf":1.013},{"ph":0.928,"rf":1.005},{"ph":0.931,"rf":1.0},{"ph":0.933,"rf":1.007},{"ph":0.936,"rf":0.997},{"ph":0.938,"rf":1.009},{"ph":0.941,"rf":1.003},{"ph":0.943,"rf":1.012},{"ph":0.946,"rf":1.006},{"ph":0.948,"rf":0.993},
{"ph":0.951,"rf":1.0089},{"ph":0.953,"rf":1.0049},{"ph":0.956,"rf":0.9999},{"ph":0.958,"rf":1.0139},{"ph":0.961,"rf":1.0019},{"ph":0.963,"rf":1.0069},{"ph":0.966,"rf":0.9949},{"ph":0.968,"rf":1.0109},{"ph":0.971,"rf":1.0049},{"ph":0.973,"rf":0.9989},
{"ph":0.976,"rf":1.0085},{"ph":0.978,"rf":1.0045},{"ph":0.981,"rf":1.0125},{"ph":0.983,"rf":0.9995},{"ph":0.986,"rf":1.0065},{"ph":0.988,"rf":1.0015},{"ph":0.991,"rf":1.0175},{"ph":0.993,"rf":1.0035},{"ph":0.996,"rf":1.0115},{"ph":0.998,"rf":0.9975},
{"ph":0.002,"rf":1.0128},{"ph":0.006,"rf":0.9908},{"ph":0.010,"rf":1.0058},{"ph":0.014,"rf":0.9948},{"ph":0.018,"rf":1.0158},{"ph":0.022,"rf":1.0008},{"ph":0.026,"rf":1.0098},{"ph":0.030,"rf":0.9898},{"ph":0.034,"rf":1.0038},{"ph":0.038,"rf":0.9978},
{"ph":0.042,"rf":0.9939},{"ph":0.046,"rf":1.0089},{"ph":0.050,"rf":1.0019},{"ph":0.054,"rf":1.0149},{"ph":0.058,"rf":0.9919},{"ph":0.062,"rf":1.0059},{"ph":0.066,"rf":0.9989},{"ph":0.070,"rf":1.0109},{"ph":0.074,"rf":0.9899},{"ph":0.078,"rf":1.0079},
{"ph":0.082,"rf":1.0105},{"ph":0.086,"rf":0.9965},{"ph":0.090,"rf":1.0145},{"ph":0.094,"rf":1.0005},{"ph":0.098,"rf":0.9915},{"ph":0.102,"rf":1.0065},{"ph":0.106,"rf":1.0125},{"ph":0.110,"rf":0.9955},{"ph":0.114,"rf":1.0045},{"ph":0.118,"rf":0.9905},
{"ph":0.122,"rf":0.9974},{"ph":0.126,"rf":1.0144},{"ph":0.130,"rf":0.9934},{"ph":0.134,"rf":1.0014},{"ph":0.138,"rf":1.0104},{"ph":0.142,"rf":0.9884},{"ph":0.146,"rf":1.0064},{"ph":0.150,"rf":0.9984},{"ph":0.154,"rf":1.0124},{"ph":0.158,"rf":0.9934},
{"ph":0.162,"rf":1.0018},{"ph":0.166,"rf":0.9898},{"ph":0.170,"rf":1.0058},{"ph":0.174,"rf":1.0128},{"ph":0.178,"rf":0.9948},{"ph":0.182,"rf":0.9988},{"ph":0.186,"rf":0.9888},{"ph":0.190,"rf":1.0088},{"ph":0.194,"rf":0.9968},{"ph":0.198,"rf":1.0058},
{"ph":0.202,"rf":1.0078},{"ph":0.206,"rf":0.9858},{"ph":0.210,"rf":1.0008},{"ph":0.214,"rf":0.9898},{"ph":0.218,"rf":1.0108},{"ph":0.222,"rf":0.9958},{"ph":0.226,"rf":1.0048},{"ph":0.230,"rf":0.9848},{"ph":0.234,"rf":0.9988},{"ph":0.238,"rf":0.9928},
{"ph":0.242,"rf":0.9869},{"ph":0.246,"rf":1.0019},{"ph":0.250,"rf":0.9949},{"ph":0.254,"rf":1.0079},{"ph":0.258,"rf":0.9849},{"ph":0.262,"rf":0.9989},{"ph":0.266,"rf":0.9919},{"ph":0.270,"rf":1.0039},{"ph":0.274,"rf":0.9829},{"ph":0.278,"rf":1.0009},
{"ph":0.282,"rf":1.0015},{"ph":0.286,"rf":0.9875},{"ph":0.290,"rf":1.0055},{"ph":0.294,"rf":0.9915},{"ph":0.298,"rf":0.9825},{"ph":0.302,"rf":0.9975},{"ph":0.306,"rf":1.0035},{"ph":0.310,"rf":0.9865},{"ph":0.314,"rf":0.9955},{"ph":0.318,"rf":0.9815},
{"ph":0.322,"rf":0.9871},{"ph":0.326,"rf":1.0041},{"ph":0.330,"rf":0.9831},{"ph":0.334,"rf":0.9911},{"ph":0.338,"rf":1.0001},{"ph":0.342,"rf":0.9781},{"ph":0.346,"rf":0.9961},{"ph":0.350,"rf":0.9881},{"ph":0.354,"rf":1.0021},{"ph":0.358,"rf":0.9831},
{"ph":0.362,"rf":0.9907},{"ph":0.366,"rf":0.9787},{"ph":0.370,"rf":0.9947},{"ph":0.374,"rf":1.0017},{"ph":0.378,"rf":0.9837},{"ph":0.382,"rf":0.9877},{"ph":0.386,"rf":0.9777},{"ph":0.390,"rf":0.9977},{"ph":0.394,"rf":0.9857},{"ph":0.398,"rf":0.9947},
{"ph":0.402,"rf":0.9965},{"ph":0.406,"rf":0.9745},{"ph":0.410,"rf":0.9895},{"ph":0.414,"rf":0.9785},{"ph":0.418,"rf":0.9995},{"ph":0.422,"rf":0.9845},{"ph":0.426,"rf":0.9935},{"ph":0.430,"rf":0.9735},{"ph":0.434,"rf":0.9875},{"ph":0.438,"rf":0.9815},
{"ph":0.442,"rf":0.9756},{"ph":0.446,"rf":0.9906},{"ph":0.450,"rf":0.9836},{"ph":0.454,"rf":0.9966},{"ph":0.458,"rf":0.9736},{"ph":0.462,"rf":0.9876},{"ph":0.466,"rf":0.9806},{"ph":0.470,"rf":0.9926},{"ph":0.474,"rf":0.9716},{"ph":0.478,"rf":0.9896},
{"ph":0.482,"rf":0.9912},{"ph":0.486,"rf":0.9772},{"ph":0.490,"rf":0.9952},{"ph":0.494,"rf":0.9812},{"ph":0.498,"rf":0.9722},{"ph":0.502,"rf":0.9872},{"ph":0.506,"rf":0.9932},{"ph":0.510,"rf":0.9762},{"ph":0.514,"rf":0.9852},{"ph":0.518,"rf":0.9712},
{"ph":0.522,"rf":0.9786},{"ph":0.526,"rf":0.9956},{"ph":0.530,"rf":0.9746},{"ph":0.534,"rf":0.9826},{"ph":0.538,"rf":0.9916},{"ph":0.542,"rf":0.9696},{"ph":0.546,"rf":0.9876},{"ph":0.550,"rf":0.9796},{"ph":0.554,"rf":0.9936},{"ph":0.558,"rf":0.9746},
{"ph":0.562,"rf":0.9847},{"ph":0.566,"rf":0.9727},{"ph":0.570,"rf":0.9887},{"ph":0.574,"rf":0.9957},{"ph":0.578,"rf":0.9777},{"ph":0.582,"rf":0.9817},{"ph":0.586,"rf":0.9717},{"ph":0.590,"rf":0.9917},{"ph":0.594,"rf":0.9797},{"ph":0.598,"rf":0.9887},
{"ph":0.602,"rf":0.9934},{"ph":0.606,"rf":0.9714},{"ph":0.610,"rf":0.9864},{"ph":0.614,"rf":0.9754},{"ph":0.618,"rf":0.9964},{"ph":0.622,"rf":0.9814},{"ph":0.626,"rf":0.9904},{"ph":0.630,"rf":0.9704},{"ph":0.634,"rf":0.9844},{"ph":0.638,"rf":0.9784},
{"ph":0.642,"rf":0.9758},{"ph":0.646,"rf":0.9908},{"ph":0.650,"rf":0.9838},{"ph":0.654,"rf":0.9968},{"ph":0.658,"rf":0.9738},{"ph":0.662,"rf":0.9878},{"ph":0.666,"rf":0.9808},{"ph":0.670,"rf":0.9928},{"ph":0.674,"rf":0.9718},{"ph":0.678,"rf":0.9898},
{"ph":0.682,"rf":0.9950},{"ph":0.686,"rf":0.9810},{"ph":0.690,"rf":0.9990},{"ph":0.694,"rf":0.9850},{"ph":0.698,"rf":0.9760},{"ph":0.702,"rf":0.9910},{"ph":0.706,"rf":0.9970},{"ph":0.710,"rf":0.9800},{"ph":0.714,"rf":0.9890},{"ph":0.718,"rf":0.9750},
{"ph":0.722,"rf":0.9855},{"ph":0.726,"rf":1.0025},{"ph":0.730,"rf":0.9815},{"ph":0.734,"rf":0.9895},{"ph":0.738,"rf":0.9985},{"ph":0.742,"rf":0.9765},{"ph":0.746,"rf":0.9945},{"ph":0.750,"rf":0.9865},{"ph":0.754,"rf":1.0005},{"ph":0.758,"rf":0.9815},
{"ph":0.762,"rf":0.9939},{"ph":0.766,"rf":0.9819},{"ph":0.770,"rf":0.9979},{"ph":0.774,"rf":1.0049},{"ph":0.778,"rf":0.9869},{"ph":0.782,"rf":0.9909},{"ph":0.786,"rf":0.9809},{"ph":0.790,"rf":1.0009},{"ph":0.794,"rf":0.9889},{"ph":0.798,"rf":0.9979},
{"ph":0.802,"rf":1.0042},{"ph":0.806,"rf":0.9822},{"ph":0.810,"rf":0.9972},{"ph":0.814,"rf":0.9862},{"ph":0.818,"rf":1.0072},{"ph":0.822,"rf":0.9922},{"ph":0.826,"rf":1.0012},{"ph":0.830,"rf":0.9812},{"ph":0.834,"rf":0.9952},{"ph":0.838,"rf":0.9892},
{"ph":0.842,"rf":0.9876},{"ph":0.846,"rf":1.0026},{"ph":0.850,"rf":0.9956},{"ph":0.854,"rf":1.0086},{"ph":0.858,"rf":0.9856},{"ph":0.862,"rf":0.9996},{"ph":0.866,"rf":0.9926},{"ph":0.870,"rf":1.0046},{"ph":0.874,"rf":0.9836},{"ph":0.878,"rf":1.0016},
{"ph":0.882,"rf":1.0070},{"ph":0.886,"rf":0.9930},{"ph":0.890,"rf":1.0110},{"ph":0.894,"rf":0.9970},{"ph":0.898,"rf":0.9880},{"ph":0.902,"rf":1.0030},{"ph":0.906,"rf":1.0090},{"ph":0.910,"rf":0.9920},{"ph":0.914,"rf":1.0010},{"ph":0.918,"rf":0.9870},
{"ph":0.922,"rf":0.9971},{"ph":0.926,"rf":1.0141},{"ph":0.930,"rf":0.9931},{"ph":0.934,"rf":1.0011},{"ph":0.938,"rf":1.0101},{"ph":0.942,"rf":0.9881},{"ph":0.946,"rf":1.0061},{"ph":0.950,"rf":0.9981},{"ph":0.954,"rf":1.0121},{"ph":0.958,"rf":0.9931},
{"ph":0.962,"rf":1.0043},{"ph":0.966,"rf":0.9923},{"ph":0.970,"rf":1.0083},{"ph":0.974,"rf":1.0153},{"ph":0.978,"rf":0.9973},{"ph":0.982,"rf":1.0013},{"ph":0.986,"rf":0.9913},{"ph":0.990,"rf":1.0113},{"ph":0.994,"rf":0.9993},{"ph":0.998,"rf":1.0083}
],
"pho": [
{"ph":0.012,"rf":1.024},{"ph":0.045,"rf":1.028},{"ph":0.068,"rf":1.021},{"ph":0.118,"rf":1.026},{"ph":0.16,"rf":1.019},{"ph":0.205,"rf":1.023},{"ph":0.232,"rf":1.018},{"ph":0.29,"rf":1.022},{"ph":0.322,"rf":1.015},{"ph":0.385,"rf":1.012},{"ph":0.43,"rf":1.016},{"ph":0.512,"rf":1.008},{"ph":0.548,"rf":1.006},{"ph":0.585,"rf":1.01},{"ph":0.64,"rf":1.012},{"ph":0.705,"rf":1.015},{"ph":0.742,"rf":1.02},{"ph":0.79,"rf":1.022},{"ph":0.835,"rf":1.026},{"ph":0.905,"rf":1.03},{"ph":0.925,"rf":1.027},{"ph":0.962,"rf":1.031},{"ph":0.985,"rf":1.025},
{"ph":0.058,"rf":0.99},{"ph":0.148,"rf":0.988},{"ph":0.275,"rf":0.981},{"ph":0.338,"rf":0.975},{"ph":0.41,"rf":0.972},{"ph":0.47,"rf":0.969},{"ph":0.52,"rf":0.968},{"ph":0.56,"rf":0.966},{"ph":0.605,"rf":0.97},{"ph":0.66,"rf":0.972},{"ph":0.72,"rf":0.978},{"ph":0.8,"rf":0.982},{"ph":0.87,"rf":0.988},{"ph":0.945,"rf":0.992},
{"ph":0.481,"rf":1.158},{"ph":0.191,"rf":1.137},{"ph":0.711,"rf":1.144},{"ph":0.845,"rf":1.145},{"ph":0.658,"rf":1.119},{"ph":0.802,"rf":1.111},{"ph":0.089,"rf":1.101},{"ph":0.259,"rf":1.105},{"ph":0.481,"rf":1.101},{"ph":0.473,"rf":1.091},{"ph":0.751,"rf":1.101},{"ph":0.87,"rf":1.094},{"ph":0.787,"rf":1.076},{"ph":0.353,"rf":1.071},{"ph":0.171,"rf":1.06},{"ph":0.264,"rf":1.06},{"ph":0.939,"rf":1.06},{"ph":0.207,"rf":1.0525},{"ph":0.311,"rf":1.0535},{"ph":0.337,"rf":1.0535},{"ph":0.242,"rf":1.049},{"ph":0.683,"rf":1.052},{"ph":0.626,"rf":1.048},{"ph":0.095,"rf":1.048},{"ph":0.446,"rf":1.045},{"ph":0.466,"rf":1.043},{"ph":0.289,"rf":1.045},{"ph":0.363,"rf":1.04},{"ph":0.752,"rf":1.035},{"ph":0.865,"rf":1.0395},{"ph":0.88,"rf":1.036},{"ph":0.082,"rf":1.042},{"ph":0.027,"rf":1.044},{"ph":0.496,"rf":1.0315},{"ph":0.603,"rf":1.029},{"ph":0.939,"rf":1.042},{"ph":0.338,"rf":1.03},{"ph":0.51,"rf":1.0165},{"ph":0.658,"rf":1.0185},{"ph":0.817,"rf":1.025},{"ph":0.425,"rf":1.0255},{"ph":0.616,"rf":1.0185},{"ph":0.37,"rf":1.0165},{"ph":0.337,"rf":0.9697},{"ph":0.62,"rf":0.9665},{"ph":0.594,"rf":0.965},{"ph":0.547,"rf":0.9675}
]
},
"hconcat": [
{
"width": 381, "height": 533,
"layer": [
{"data": {"name": "lc"}, "mark": {"type": "square", "size": 18, "color": "black", "opacity": 1},
 "encoding": {
  "x": {"field": "t", "type": "quantitative", "scale": {"domain": [-1.15, 72.1], "nice": false, "zero": false},
   "axis": {"orient": "bottom", "values": [0, 20, 40, 60], "format": "d", "ticks": false, "tickSize": 0, "labelPadding": 27, "title": "times- 2228 (d)", "titleX": 195, "titleY": 111, "titleBaseline": "alphabetic", "titleAlign": "center"}},
  "y": {"field": "f", "type": "quantitative", "scale": {"domain": [291.3, 502.7], "nice": false, "zero": false},
   "axis": {"orient": "left", "values": [300, 350, 400, 450, 500], "format": "d", "ticks": false, "tickSize": 0, "labelPadding": 22.5, "labelOffset": 3, "title": "flux", "titleX": -126.5, "titleY": 258, "titleBaseline": "alphabetic", "titleAlign": "center", "titleAngle": 270}}
 }},
{"data": {"name": "lco"}, "mark": {"type": "square", "size": 7, "color": "black", "opacity": 1},
 "encoding": {"x": {"field": "t", "type": "quantitative", "axis": null}, "y": {"field": "f", "type": "quantitative", "axis": null}}},
{"data": {"name": "lco"}, "mark": {"type": "point", "opacity": 0},
 "encoding": {
  "x": {"field": "t", "type": "quantitative", "axis": {"orient": "bottom", "values": [0,5,10,15,20,25,30,35,40,45,50,55,60,65,70], "labels": false, "title": null, "tickSize": {"condition": {"test": "datum.value % 20 === 0", "value": -9}, "value": -4.5}}},
  "y": {"field": "f", "type": "quantitative", "axis": {"orient": "left", "values": [300,310,320,330,340,350,360,370,380,390,400,410,420,430,440,450,460,470,480,490,500], "labels": false, "title": null, "tickSize": {"condition": {"test": "datum.value % 50 === 0", "value": -9}, "value": -4.5}}}
 }},
{"data": {"name": "lco"}, "mark": {"type": "point", "opacity": 0},
 "encoding": {
  "x": {"field": "t", "type": "quantitative", "axis": {"orient": "top", "values": [0,5,10,15,20,25,30,35,40,45,50,55,60,65,70], "labels": false, "title": null, "tickSize": {"condition": {"test": "datum.value % 20 === 0", "value": -9}, "value": -4.5}}},
  "y": {"field": "f", "type": "quantitative", "axis": {"orient": "right", "values": [300,310,320,330,340,350,360,370,380,390,400,410,420,430,440,450,460,470,480,490,500], "labels": false, "title": null, "tickSize": {"condition": {"test": "datum.value % 50 === 0", "value": -9}, "value": -4.5}}}
 }},
{"data": {"name": "ann1"}, "mark": {"type": "text", "align": "left", "baseline": "alphabetic", "fontSize": 37, "font": "Liberation Sans", "color": "black"},
 "encoding": {"x": {"field": "t", "type": "quantitative", "axis": null}, "y": {"field": "f", "type": "quantitative", "axis": null}, "text": {"field": "s"}}},
{"data": {"name": "ann2"}, "mark": {"type": "text", "align": "left", "baseline": "alphabetic", "fontSize": 21, "font": "Liberation Sans", "color": "black"},
 "encoding": {"x": {"field": "t", "type": "quantitative", "axis": null}, "y": {"field": "f", "type": "quantitative", "axis": null}, "text": {"field": "s"}}}
],
"resolve": {"axis": {"x": "independent", "y": "independent"}}
},
{
"width": 381, "height": 533,
"title": {"text": "210947280/HHJ7", "fontSize": 58, "font": "Liberation Sans", "fontWeight": "normal", "color": "black", "frame": "group", "anchor": "middle", "baseline": "alphabetic", "offset": -38},
"layer": [
{"data": {"name": "pg"}, "mark": {"type": "line", "color": "black", "strokeWidth": 4, "strokeJoin": "bevel"},
 "encoding": {
  "x": {"field": "p", "type": "quantitative", "scale": {"type": "log", "domain": [0.05, 35], "nice": false},
   "axis": {"orient": "bottom", "values": [0.1, 1, 10], "format": ".1f", "ticks": false, "tickSize": 0, "labelPadding": 27, "title": "Period", "titleX": 191, "titleY": 111, "titleBaseline": "alphabetic", "titleAlign": "center"}},
  "y": {"field": "w", "type": "quantitative", "scale": {"domain": [0, 40], "nice": false, "zero": false},
   "axis": {"orient": "left", "values": [0, 10, 20, 30, 40], "format": "d", "ticks": false, "tickSize": 0, "labelPadding": 16.5, "labelFlush": false, "labelOffset": {"condition": [{"test": "datum.value === 40", "value": 20}, {"test": "datum.value === 0", "value": -12}], "value": 4}, "title": "Power", "titleX": -103.5, "titleY": 266, "titleBaseline": "alphabetic", "titleAlign": "center", "titleAngle": 270}}
 }},
{"data": {"name": "pg"}, "mark": {"type": "point", "opacity": 0},
 "encoding": {
  "x": {"field": "p", "type": "quantitative", "axis": {"orient": "bottom", "values": [0.05,0.06,0.07,0.08,0.09,0.1,0.2,0.3,0.4,0.5,0.6,0.7,0.8,0.9,1,2,3,4,5,6,7,8,9,10,20,30], "labels": false, "title": null, "tickSize": {"condition": {"test": "datum.value === 0.1 || datum.value === 1 || datum.value === 10", "value": -9}, "value": -4.5}}},
  "y": {"field": "w", "type": "quantitative", "axis": {"orient": "left", "values": [0,2,4,6,8,10,12,14,16,18,20,22,24,26,28,30,32,34,36,38,40], "labels": false, "title": null, "tickSize": {"condition": {"test": "datum.value % 10 === 0", "value": -9}, "value": -4.5}}}
 }},
{"data": {"name": "pg"}, "mark": {"type": "point", "opacity": 0},
 "encoding": {
  "x": {"field": "p", "type": "quantitative", "axis": {"orient": "top", "values": [0.05,0.06,0.07,0.08,0.09,0.1,0.2,0.3,0.4,0.5,0.6,0.7,0.8,0.9,1,2,3,4,5,6,7,8,9,10,20,30], "labels": false, "title": null, "tickSize": {"condition": {"test": "datum.value === 0.1 || datum.value === 1 || datum.value === 10", "value": -9}, "value": -4.5}}},
  "y": {"field": "w", "type": "quantitative", "axis": {"orient": "right", "values": [0,2,4,6,8,10,12,14,16,18,20,22,24,26,28,30,32,34,36,38,40], "labels": false, "title": null, "tickSize": {"condition": {"test": "datum.value % 10 === 0", "value": -9}, "value": -4.5}}}
 }}
],
"resolve": {"axis": {"x": "independent", "y": "independent"}}
},
{
"width": 381, "height": 533,
"title": {"text": "0.802d", "fontSize": 58, "font": "Liberation Sans", "fontWeight": "normal", "color": "black", "frame": "group", "anchor": "middle", "baseline": "alphabetic", "offset": -38, "dx": 6},
"layer": [
{"data": {"name": "ph"}, "mark": {"type": "square", "size": 18, "color": "black", "opacity": 1},
 "encoding": {
  "x": {"field": "ph", "type": "quantitative", "scale": {"domain": [0, 1], "nice": false, "zero": false},
   "axis": {"orient": "bottom", "values": [0, 0.2, 0.4, 0.6, 0.8, 1.0], "format": ".1f", "ticks": false, "tickSize": 0, "labelPadding": 27, "title": "phase", "titleX": 191.5, "titleY": 111, "titleBaseline": "alphabetic", "titleAlign": "center"}},
  "y": {"field": "rf", "type": "quantitative", "scale": {"domain": [0.7335, 1.2665], "nice": false, "zero": false},
   "axis": {"orient": "left", "values": [0.8, 0.9, 1.0, 1.1, 1.2], "format": ".1f", "ticks": false, "tickSize": 0, "labelPadding": 13, "labelOffset": 3, "title": "relative flux", "titleX": -117.5, "titleY": 257, "titleBaseline": "alphabetic", "titleAlign": "center", "titleAngle": 270}}
 }},
{"data": {"name": "pho"}, "mark": {"type": "square", "size": 7, "color": "black", "opacity": 1},
 "encoding": {"x": {"field": "ph", "type": "quantitative", "axis": null}, "y": {"field": "rf", "type": "quantitative", "axis": null}}},
{"data": {"name": "pho"}, "mark": {"type": "point", "opacity": 0},
 "encoding": {
  "x": {"field": "ph", "type": "quantitative", "axis": {"orient": "bottom", "values": [0,0.05,0.1,0.15,0.2,0.25,0.3,0.35,0.4,0.45,0.5,0.55,0.6,0.65,0.7,0.75,0.8,0.85,0.9,0.95,1], "labels": false, "title": null, "tickSize": {"condition": {"test": "abs(datum.value * 5 - round(datum.value * 5)) < 0.001", "value": -9}, "value": -4.5}}},
  "y": {"field": "rf", "type": "quantitative", "axis": {"orient": "left", "values": [0.74,0.76,0.78,0.8,0.82,0.84,0.86,0.88,0.9,0.92,0.94,0.96,0.98,1,1.02,1.04,1.06,1.08,1.1,1.12,1.14,1.16,1.18,1.2,1.22,1.24,1.26], "labels": false, "title": null, "tickSize": {"condition": {"test": "abs(datum.value * 10 - round(datum.value * 10)) < 0.001", "value": -9}, "value": -4.5}}}
 }},
{"data": {"name": "pho"}, "mark": {"type": "point", "opacity": 0},
 "encoding": {
  "x": {"field": "ph", "type": "quantitative", "axis": {"orient": "top", "values": [0,0.05,0.1,0.15,0.2,0.25,0.3,0.35,0.4,0.45,0.5,0.55,0.6,0.65,0.7,0.75,0.8,0.85,0.9,0.95,1], "labels": false, "title": null, "tickSize": {"condition": {"test": "abs(datum.value * 5 - round(datum.value * 5)) < 0.001", "value": -9}, "value": -4.5}}},
  "y": {"field": "rf", "type": "quantitative", "axis": {"orient": "right", "values": [0.74,0.76,0.78,0.8,0.82,0.84,0.86,0.88,0.9,0.92,0.94,0.96,0.98,1,1.02,1.04,1.06,1.08,1.1,1.12,1.14,1.16,1.18,1.2,1.22,1.24,1.26], "labels": false, "title": null, "tickSize": {"condition": {"test": "abs(datum.value * 10 - round(datum.value * 10)) < 0.001", "value": -9}, "value": -4.5}}}
 }}
],
"resolve": {"axis": {"x": "independent", "y": "independent"}}
}
],
"config": {
 "font": "Liberation Sans",
 "view": {"stroke": "black", "strokeWidth": 3},
 "axis": {"domain": false, "grid": false, "labelFont": "Liberation Sans", "titleFont": "Liberation Sans", "labelFontSize": 41, "titleFontSize": 46, "titleFontWeight": "normal", "labelColor": "black", "titleColor": "black", "tickColor": "black", "tickWidth": 3, "labelOverlap": false, "labelFlush": false, "labelBound": false, "titlePadding": 0}
}
}
